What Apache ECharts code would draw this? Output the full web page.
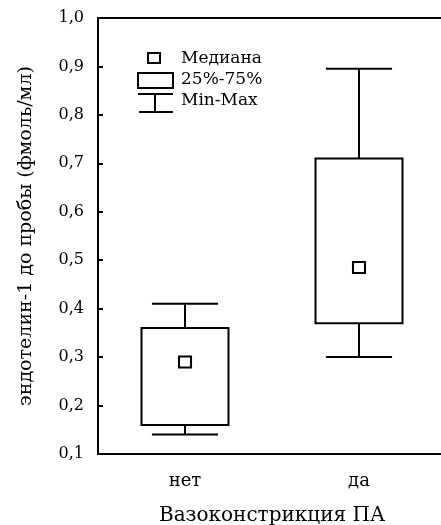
<!DOCTYPE html>
<html>
<head>
<meta charset="utf-8">
<script src="https://cdn.jsdelivr.net/npm/echarts@6/dist/echarts.min.js"></script>
<style>
  html, body { margin: 0; padding: 0; background: #fff; }
  #chart { width: 441px; height: 525px; }
</style>
</head>
<body>
<div id="chart"></div>
<script>
// data
const categories = ["нет", "да"];
const minVals = [0.14, 0.30];
const q1Vals = [0.16, 0.37];
const medianVals = [0.29, 0.485];
const q3Vals = [0.36, 0.71];
const maxVals = [0.41, 0.895];
const yTicks = [0.1, 0.2, 0.3, 0.4, 0.5, 0.6, 0.7, 0.8, 0.9, 1.0];

const FONT = "DejaVu Serif";
const chart = echarts.init(document.getElementById("chart"));

// box + whiskers drawn through the axis scales
const boxData = categories.map((c, i) => [i, minVals[i], q1Vals[i], q3Vals[i], maxVals[i]]);

function renderBox(params, api) {
  const i = api.value(0);
  const pMin = api.coord([i, api.value(1)]);
  const pQ1 = api.coord([i, api.value(2)]);
  const pQ3 = api.coord([i, api.value(3)]);
  const pMax = api.coord([i, api.value(4)]);
  const band = api.size([1, 0])[0];
  const boxW = band * 0.5;
  const capW = band * 0.38;
  const x = pQ1[0];
  const style = { stroke: "#000", lineWidth: 2, fill: null };
  return {
    type: "group",
    children: [
      { type: "line", shape: { x1: x, y1: pQ3[1], x2: x, y2: pMax[1] }, style },
      { type: "line", shape: { x1: x - capW / 2, y1: pMax[1], x2: x + capW / 2, y2: pMax[1] }, style },
      { type: "line", shape: { x1: x, y1: pQ1[1], x2: x, y2: pMin[1] }, style },
      { type: "line", shape: { x1: x - capW / 2, y1: pMin[1], x2: x + capW / 2, y2: pMin[1] }, style },
      {
        type: "rect",
        shape: { x: x - boxW / 2, y: pQ3[1], width: boxW, height: pQ1[1] - pQ3[1] },
        style: { stroke: "#000", lineWidth: 2, fill: "#fff" },
      },
    ],
  };
}

const lineStyle = { stroke: "#000", lineWidth: 2 };
const legendText = (x, y, text) => ({
  type: "text",
  x: x,
  y: y,
  style: { text, font: "17px '" + FONT + "'", fill: "#000", verticalAlign: "middle" },
});

const option = {
  backgroundColor: "#fff",
  animation: false,
  grid: {
    left: 98,
    top: 18,
    width: 348,
    height: 436,
    outerBoundsMode: "none",
    containLabel: false,
    show: true,
    borderColor: "#000",
    borderWidth: 2,
    backgroundColor: "transparent",
  },
  xAxis: {
    type: "category",
    data: categories,
    boundaryGap: true,
    name: "Вазоконстрикция ПА",
    nameLocation: "middle",
    nameGap: 52,
    nameTextStyle: { fontFamily: FONT, fontSize: 20, color: "#000" },
    axisLine: { lineStyle: { color: "#000", width: 2 } },
    axisTick: { inside: true, alignWithLabel: true, length: 5, lineStyle: { color: "#000", width: 2 } },
    axisLabel: { fontFamily: FONT, fontSize: 18, color: "#000", margin: 18 },
    splitLine: { show: false },
  },
  yAxis: {
    type: "value",
    min: yTicks[0],
    max: yTicks[yTicks.length - 1],
    interval: 0.1,
    name: "эндотелин-1 до пробы (фмоль/мл)",
    nameLocation: "middle",
    nameGap: 62,
    nameTextStyle: { fontFamily: FONT, fontSize: 19, color: "#000" },
    axisLine: { show: true, lineStyle: { color: "#000", width: 2 } },
    axisTick: { show: true, inside: true, length: 5, lineStyle: { color: "#000", width: 2 } },
    axisLabel: {
      fontFamily: FONT,
      fontSize: 16,
      color: "#000",
      margin: 14,
      formatter: (v) => v.toFixed(1).replace(".", ","),
    },
    splitLine: { show: false },
  },
  series: [
    {
      type: "custom",
      renderItem: renderBox,
      data: boxData,
      encode: { x: 0, y: [1, 2, 3, 4] },
      z: 2,
    },
    {
      type: "scatter",
      data: medianVals.map((v, i) => [i, v]),
      symbol: "rect",
      symbolSize: [12, 11],
      itemStyle: { color: "#fff", borderColor: "#000", borderWidth: 2, opacity: 1 },
      z: 3,
    },
  ],
  graphic: [
    // legend: median square
    { type: "rect", shape: { x: 148, y: 53, width: 12, height: 10 }, style: { stroke: "#000", lineWidth: 2, fill: "#fff" } },
    // legend: box
    { type: "rect", shape: { x: 138, y: 73, width: 35, height: 15 }, style: { stroke: "#000", lineWidth: 2, fill: "#fff" } },
    // legend: whisker
    { type: "line", shape: { x1: 138, y1: 94, x2: 173, y2: 94 }, style: lineStyle },
    { type: "line", shape: { x1: 155, y1: 94, x2: 155, y2: 112 }, style: lineStyle },
    { type: "line", shape: { x1: 139, y1: 112, x2: 173, y2: 112 }, style: lineStyle },
    legendText(181, 59, "Медиана"),
    legendText(181, 80, "25%-75%"),
    legendText(181, 101, "Min-Max"),
  ],
};

chart.setOption(option);
</script>
</body>
</html>
